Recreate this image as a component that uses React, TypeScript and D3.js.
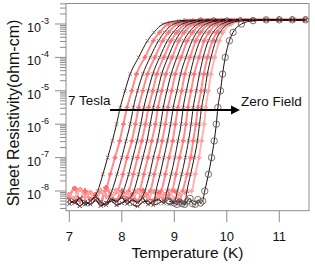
import React from 'react';
import * as d3 from 'd3';

const LEVELS = [-8, -7.5, -7, -6.5, -6, -5.5, -5, -4.5, -4, -3.5, -3.25, -3.0, -2.9];

// crossing temperatures (K) for the black sweeps, high field -> low field
const DARK_T = [
  [7.54, 7.64, 7.73, 7.82, 7.9, 7.97, 8.06, 8.16, 8.32, 8.49, 8.61, 8.79, 9.09],
  [7.81, 7.91, 8.0, 8.08, 8.16, 8.22, 8.3, 8.4, 8.54, 8.7, 8.81, 8.99, 9.28],
  [8.03, 8.13, 8.21, 8.29, 8.36, 8.42, 8.5, 8.59, 8.72, 8.87, 8.98, 9.15, 9.43],
  [8.23, 8.32, 8.4, 8.48, 8.54, 8.6, 8.68, 8.76, 8.88, 9.02, 9.12, 9.29, 9.57],
  [8.44, 8.53, 8.6, 8.68, 8.74, 8.79, 8.86, 8.94, 9.05, 9.18, 9.28, 9.45, 9.71],
  [8.65, 8.73, 8.8, 8.87, 8.93, 8.98, 9.05, 9.12, 9.22, 9.34, 9.43, 9.6, 9.86],
  [8.86, 8.94, 9.01, 9.07, 9.13, 9.17, 9.23, 9.3, 9.38, 9.49, 9.58, 9.75, 10.0],
  [9.06, 9.14, 9.21, 9.27, 9.32, 9.36, 9.42, 9.48, 9.55, 9.65, 9.74, 9.9, 10.14],
  [9.24, 9.31, 9.38, 9.44, 9.48, 9.52, 9.58, 9.63, 9.7, 9.79, 9.87, 10.03, 10.27],
];

// crossing temperatures (K) for the red sweeps
const PINK_T = [
  [7.68, 7.78, 7.87, 7.96, 8.03, 8.1, 8.19, 8.28, 8.44, 8.6, 8.72, 8.89, 9.19],
  [7.92, 8.02, 8.1, 8.19, 8.26, 8.32, 8.4, 8.49, 8.63, 8.78, 8.89, 9.07, 9.35],
  [8.13, 8.22, 8.3, 8.38, 8.45, 8.51, 8.59, 8.67, 8.8, 8.94, 9.05, 9.22, 9.5],
  [8.33, 8.42, 8.5, 8.57, 8.64, 8.69, 8.76, 8.84, 8.96, 9.09, 9.19, 9.37, 9.63],
  [8.54, 8.62, 8.7, 8.77, 8.83, 8.88, 8.95, 9.02, 9.13, 9.25, 9.35, 9.52, 9.78],
  [8.75, 8.83, 8.9, 8.97, 9.02, 9.07, 9.14, 9.2, 9.3, 9.41, 9.5, 9.67, 9.92],
  [8.95, 9.03, 9.1, 9.17, 9.22, 9.26, 9.32, 9.38, 9.47, 9.57, 9.66, 9.82, 10.07],
  [9.16, 9.24, 9.31, 9.36, 9.41, 9.45, 9.51, 9.56, 9.63, 9.73, 9.81, 9.97, 10.21],
  [9.33, 9.4, 9.47, 9.52, 9.57, 9.6, 9.65, 9.7, 9.77, 9.86, 9.93, 10.09, 10.32],
];

// zero field sweep (open circles)
const ZERO_FIELD_T = [9.58, 9.65, 9.71, 9.76, 9.8, 9.83, 9.88, 9.92, 9.97, 10.05, 10.12, 10.28, 10.5];

// noise floor below the transition, log10(R)
const FLOOR_T = [7.0, 7.1, 7.2, 7.3, 7.4, 7.5, 7.6, 7.7, 7.8, 7.9, 8.0, 8.1, 8.2, 8.3, 8.4, 8.5, 8.6, 8.7, 8.8, 8.9, 9.0, 9.1, 9.2, 9.3, 9.4, 9.5];
const FLOOR_A = [-8.28, -8.35, -8.22, -8.4, -8.3, -8.18, -8.33, -8.42, -8.25, -8.31, -8.2, -8.38, -8.27, -8.34, -8.22, -8.4, -8.3, -8.26, -8.36, -8.24, -8.32, -8.3, -8.38, -8.2, -8.36, -8.3];
const FLOOR_B = [-8.1, -8.22, -7.95, -8.18, -8.05, -8.25, -8.0, -8.15, -8.2, -7.98, -8.16, -8.05, -8.24, -8.0, -8.14, -8.2, -8.02, -8.18, -8.1, -8.0, -8.22, -8.1, -8.05, -8.2, -8.12, -8.18];
const FLOOR_C = [-8.38, -8.3, -8.45, -8.32, -8.4, -8.28, -8.44, -8.35, -8.3, -8.42, -8.36, -8.28, -8.4, -8.46, -8.33, -8.3, -8.42, -8.37, -8.29, -8.4, -8.35, -8.44, -8.32, -8.38, -8.43, -8.36];
const FLOOR_D = [-8.2, -7.92, -8.3, -8.0, -8.25, -8.1, -8.35, -7.9, -8.15, -8.28, -8.0, -8.22, -8.1, -8.32, -7.98, -8.18, -8.3, -8.05, -8.26, -8.12, -8.0, -8.28, -8.2, -8.1, -8.3, -8.15];
const ZERO_FLOOR_T = [8.9, 9.0, 9.05, 9.1, 9.15, 9.2, 9.25, 9.3, 9.35, 9.4, 9.45, 9.5, 9.54];
const ZERO_FLOOR = [-8.3, -8.36, -8.4, -8.33, -8.38, -8.4, -8.3, -8.22, -8.38, -8.4, -8.26, -8.36, -8.3];

// normal state plateau
const PLATEAU_T = [9.25, 9.5, 9.75, 10.0, 10.25, 10.5, 10.75, 11.0, 11.25, 11.5];
const PLATEAU_DARK = [-2.89, -2.885, -2.882, -2.88, -2.878, -2.876, -2.875, -2.875, -2.874, -2.874];
const PLATEAU_PINK = [-2.875, -2.87, -2.866, -2.864, -2.862, -2.86, -2.86, -2.858, -2.858, -2.858];

const X_TICKS = [7, 8, 9, 10, 11];
const Y_DECADES = [-8, -7, -6, -5, -4, -3];

const W = 315;
const H = 264;
const plot = { left: 66, top: 3.5, right: 309, bottom: 210.7 };

const x = d3.scaleLinear().domain([6.937, 11.566]).range([plot.left, plot.right]);
const y = d3.scaleLog().domain([10 ** -8.59, 10 ** -2.386]).range([plot.bottom, plot.top]);

type Pt = [number, number];

function buildSweep(temps: number[], floorT: number[], floor: number[], plateau: number[]): Pt[] {
  const pts: Pt[] = [];
  const onset = temps[0] - 0.04;
  floorT.forEach((t, i) => {
    if (t < onset) pts.push([t, floor[i]]);
  });
  temps.forEach((t, i) => pts.push([t, LEVELS[i]]));
  const last = temps[temps.length - 1];
  PLATEAU_T.forEach((t, i) => {
    if (t > last + 0.08) pts.push([t, plateau[i]]);
  });
  return pts;
}

const line = d3
  .line<Pt>()
  .x((d) => x(d[0]))
  .y((d) => y(10 ** d[1]))
  .curve(d3.curveMonotoneX);

const crossPath = d3.symbol(d3.symbolCross, 13)() as string;
const xPath = d3.symbol(d3.symbolX, 10)() as string;

const FONT = 'Liberation Sans, Arial, Helvetica, sans-serif';

const App = () => {
  const darkSweeps = DARK_T.map((t, i) => buildSweep(t, FLOOR_T, i % 2 === 0 ? FLOOR_A : FLOOR_C, PLATEAU_DARK));
  const pinkSweeps = PINK_T.map((t, i) => buildSweep(t, FLOOR_T, i % 2 === 0 ? FLOOR_B : FLOOR_D, PLATEAU_PINK));
  const zeroSweep = buildSweep(ZERO_FIELD_T, ZERO_FLOOR_T, ZERO_FLOOR, PLATEAU_DARK);

  const yTicks = y.ticks().filter((v) => v >= y.domain()[0] && v <= y.domain()[1]);
  const isMajor = (v: number) => Math.abs(Math.log10(v) - Math.round(Math.log10(v))) < 1e-6;

  const arrowY = y(10 ** -5.575);
  const arrowX0 = x(7.775);
  const arrowTip = x(10.25);
  const headBase = x(10.08);

  return (
    <svg width={W} height={H} style={{ position: 'absolute', left: 0, top: 0, background: '#fff' }} fontFamily={FONT}>
      <defs>
        <clipPath id="plotClip">
          <rect x={plot.left} y={plot.top} width={plot.right - plot.left} height={plot.bottom - plot.top} />
        </clipPath>
      </defs>

      <g clipPath="url(#plotClip)">
        {pinkSweeps.map((pts, i) => (
          <g key={'p' + i}>
            <path d={line(pts) as string} fill="none" stroke={i === 8 ? '#ffb4b4' : '#ff8c8c'} strokeWidth={2} />
            {pts.map((d, j) => (
              <path key={j} d={crossPath} transform={`translate(${x(d[0])},${y(10 ** d[1])})`} fill={i === 8 ? '#ffa0a0' : '#ff6f6f'} />
            ))}
          </g>
        ))}
        {darkSweeps.map((pts, i) => (
          <g key={'d' + i}>
            <path d={line(pts) as string} fill="none" stroke="#2e1212" strokeWidth={1} />
            {pts.map((d, j) => (
              <path key={j} d={xPath} transform={`translate(${x(d[0])},${y(10 ** d[1])})`} fill="none" stroke="#7a6262" strokeWidth={0.8} />
            ))}
          </g>
        ))}
        <path d={line(zeroSweep) as string} fill="none" stroke="#1a0a0a" strokeWidth={1} />
        {zeroSweep.map((d, j) => (
          <circle key={j} cx={x(d[0])} cy={y(10 ** d[1])} r={3.2} fill="none" stroke="#5a4a4a" strokeWidth={0.8} />
        ))}
      </g>

      {/* frame */}
      <rect x={plot.left} y={plot.top} width={plot.right - plot.left} height={plot.bottom - plot.top} fill="none" stroke="#8c8c8c" strokeWidth={1} />

      {/* x axis */}
      {X_TICKS.map((t) => (
        <g key={t}>
          <line x1={x(t)} x2={x(t)} y1={plot.bottom} y2={plot.bottom + 11.5} stroke="#8c8c8c" />
          <text x={x(t)} y={240.5} textAnchor="middle" fontSize={13} fill="#111">
            {t}
          </text>
        </g>
      ))}
      <text x={187.5} y={257.5} textAnchor="middle" fontSize={15.5} fill="#111">
        Temperature (K)
      </text>

      {/* y axis */}
      {yTicks.map((v, i) => (
        <line
          key={i}
          x1={plot.left - (isMajor(v) ? 11 : 6)}
          x2={plot.left}
          y1={y(v)}
          y2={y(v)}
          stroke="#8c8c8c"
        />
      ))}
      {Y_DECADES.map((e) => (
        <text key={e} x={49} y={y(10 ** e) + 8} textAnchor="end" fontSize={12.5} fill="#111">
          10
          <tspan dy={-8.5} fontSize={9}>
            {e}
          </tspan>
        </text>
      ))}
      <text transform={`translate(19,113) rotate(-90)`} textAnchor="middle" fontSize={16} fill="#111">
        Sheet Resistivity(ohm-cm)
      </text>

      {/* annotation */}
      <line x1={arrowX0} x2={headBase + 1} y1={arrowY} y2={arrowY} stroke="#000" strokeWidth={2.2} />
      <polygon points={`${arrowTip},${arrowY} ${headBase},${arrowY - 4.5} ${headBase},${arrowY + 4.5}`} fill="#000" />
      <text x={68} y={105} fontSize={13.5} fill="#111">
        7 Tesla
      </text>
      <text x={241} y={106} fontSize={13.5} fill="#111">
        Zero Field
      </text>
    </svg>
  );
};

export default App;
